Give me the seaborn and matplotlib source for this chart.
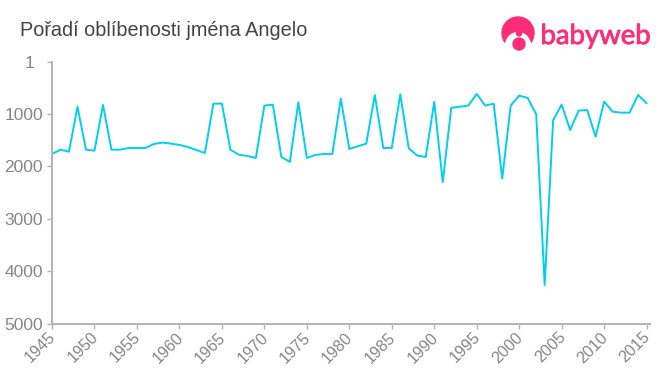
import matplotlib
matplotlib.use("Agg")
import matplotlib.patheffects as pe
import matplotlib.pyplot as plt
import pandas as pd
import seaborn as sns
from matplotlib.patches import Circle, Ellipse
from matplotlib.transforms import ScaledTranslation

TITLE = "Pořadí oblíbenosti jména Angelo"
YEARS = list(range(1945, 2016))
RANKS = [
    1762, 1680, 1718, 860, 1680, 1699, 829, 1680, 1680, 1648,
    1648, 1648, 1571, 1546, 1565, 1590, 1629, 1686, 1743, 803,
    803, 1680, 1775, 1800, 1838, 841, 822, 1819, 1914, 780,
    1838, 1781, 1762, 1762, 710, 1667, 1616, 1565, 640, 1648,
    1648, 625, 1654, 1794, 1819, 770, 2300, 886, 861, 841,
    619, 841, 803, 2230, 841, 651, 695, 1006, 4257, 1114,
    822, 1305, 937, 924, 1432, 765, 956, 975, 975, 638,
    796,
]
X_TICKS = list(range(1945, 2016, 5))
Y_TICKS = [1, 1000, 2000, 3000, 4000, 5000]

LINE_COLOR = "#00cfee"
AXIS_COLOR = "#b5b5b5"
TICK_COLOR = "#868686"
PINK = "#ff2d78"


def draw_logo(fig):
    logo = fig.add_axes([0, 0, 1, 1], zorder=5)
    logo.set_xlim(0, 660)
    logo.set_ylim(375, 0)
    logo.axis("off")
    logo.add_patch(Circle((518, 33), 16, color=PINK))
    logo.add_patch(Ellipse((518, 46), 25, 27, color="white"))
    logo.add_patch(Ellipse((519, 33), 5, 6, color=PINK))
    logo.add_patch(Circle((519, 44), 6, color=PINK))
    logo.text(540.5, 36, "babyweb", color=PINK, fontsize=19.8, family="Lato",
              va="center", ha="left",
              path_effects=[pe.withStroke(linewidth=0.6, foreground=PINK)])


def plot_rank(df):
    sns.set_theme(style="white")
    plt.rcParams["font.family"] = ["Liberation Sans", "DejaVu Sans"]
    fig = plt.figure(figsize=(6.6, 3.75), dpi=100)
    ax = fig.add_axes([52 / 660, 1 - 324 / 375, 598 / 660, (324 - 61.5) / 375])
    sns.lineplot(data=df, x="year", y="rank", color=LINE_COLOR, linewidth=1.4, ax=ax)
    ax.set_xlim(1945, 2015.4)
    ax.set_ylim(5000, 1)
    ax.set_xticks(X_TICKS)
    ax.set_yticks(Y_TICKS)
    ax.set_xlabel("")
    ax.set_ylabel("")
    sns.despine(ax=ax)
    for side in ["left", "bottom"]:
        ax.spines[side].set_color(AXIS_COLOR)
        ax.spines[side].set_linewidth(1.5)
    ax.tick_params(axis="both", length=3.5, width=1, color=AXIS_COLOR,
                   labelcolor=TICK_COLOR, labelsize=12.5, pad=3, bottom=True, left=True)
    ax.tick_params(axis="x", labelsize=11.6, pad=2)
    plt.setp(ax.get_xticklabels(), rotation=45, ha="right", rotation_mode="anchor")
    # nudge the slanted years closer to their ticks
    nudge = ScaledTranslation(-4 / 100, 2 / 100, fig.dpi_scale_trans)
    for label in ax.get_xticklabels():
        label.set_transform(label.get_transform() + nudge)
    # the "1" sits further left than the other rank labels
    first = ax.get_yticklabels()[0]
    first.set_transform(first.get_transform() + ScaledTranslation(-9 / 100, 0, fig.dpi_scale_trans))
    fig.text(20 / 660, 1 - 30 / 375, TITLE, color="#444444", fontsize=14.3, va="center")
    draw_logo(fig)
    fig.savefig("out.png", dpi=100)


if __name__ == "__main__":
    ranks = pd.DataFrame({"year": YEARS, "rank": RANKS})
    plot_rank(ranks)
